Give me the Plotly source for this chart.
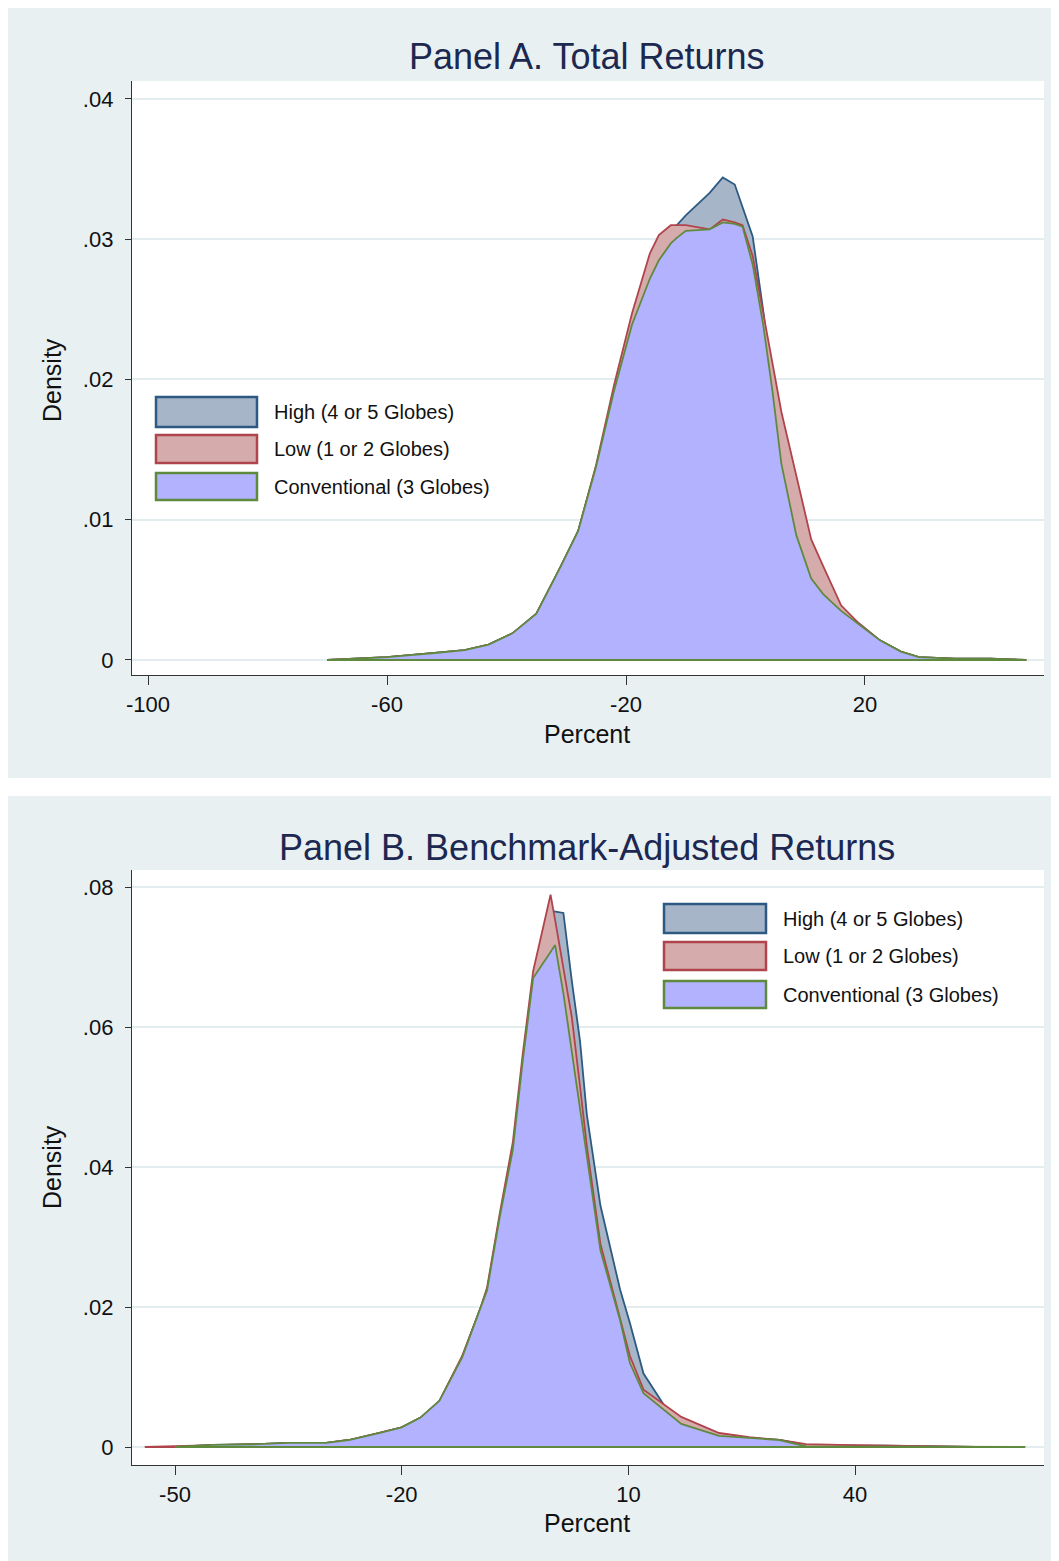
import plotly.graph_objects as go

W, H = 1059, 1561

# ---------------- Panel A data (Total Returns) ----------------
xA = [-70, -60, -52, -47, -43, -39, -35, -31, -28, -25, -22, -19, -16, -14.5, -12.5, -11.5,
      -10, -6, -3.8, -1.8, -0.5, 1.2, 3, 4.5, 6, 8.5, 11, 13, 16, 19, 22.5, 26, 29, 35, 41, 47]
convA = [0, 0.0002, 0.0005, 0.0007, 0.0011, 0.0019, 0.0033, 0.0066, 0.0092, 0.0138, 0.0192, 0.0239,
         0.0272, 0.0285, 0.0297, 0.0301, 0.0306, 0.0307, 0.0312, 0.0311, 0.0309, 0.0282, 0.0238,
         0.0192, 0.0140, 0.0089, 0.0058, 0.0047, 0.0035, 0.0025, 0.0014, 0.0006, 0.0002, 0.0001,
         0.0001, 0]
lowA = [0, 0.0002, 0.0005, 0.0007, 0.0011, 0.0019, 0.0033, 0.0066, 0.0092, 0.0139, 0.0196, 0.0247,
        0.0290, 0.0303, 0.0310, 0.0310, 0.0310, 0.0307, 0.0314, 0.0312, 0.0310, 0.0288, 0.0248,
        0.0212, 0.0177, 0.0132, 0.0086, 0.0067, 0.0039, 0.0026, 0.0014, 0.0006, 0.0002, 0.0001,
        0.0001, 0]
highA = [0, 0.0002, 0.0005, 0.0007, 0.0011, 0.0019, 0.0033, 0.0066, 0.0092, 0.0138, 0.0192, 0.0239,
         0.0275, 0.0288, 0.0302, 0.0310, 0.0317, 0.0333, 0.0344, 0.0339, 0.0323, 0.0302, 0.0248,
         0.0195, 0.0142, 0.0092, 0.0060, 0.0049, 0.0037, 0.0026, 0.0014, 0.0006, 0.0002, 0.0001,
         0.0001, 0]

# ---------------- Panel B data (Benchmark-Adjusted Returns) ----------------
xB = [-50, -45, -39, -35, -30, -27, -23, -20, -17.5, -15, -12, -9.6, -8.7, -7, -5.3, -4, -2.6,
      -0.3, 0.3, 1.4, 2.5, 3.6, 4.5, 6.3, 8.9, 10.2, 12, 15, 17, 22, 26, 30, 33.5, 38, 44, 50, 56, 62.5]
convB = [0, 0.0003, 0.0004, 0.0006, 0.0006, 0.0010, 0.0020, 0.0028, 0.0042, 0.0066, 0.0128, 0.0196,
         0.0224, 0.0330, 0.0424, 0.0550, 0.0670, 0.0707, 0.0717, 0.0648, 0.0566, 0.0477, 0.0410,
         0.0281, 0.0181, 0.0120, 0.0077, 0.0050, 0.0033, 0.0016, 0.0013, 0.0010, 0.0001, 0.0001,
         0.0001, 0.0001, 0, 0]
xB_low = [-54, -50, -45, -39, -35, -30, -27, -23, -20, -17.5, -15, -12, -9.6, -8.7, -7, -5.3, -4, -2.6,
          -0.3, 0.3, 1.4, 2.5, 3.6, 4.5, 6.3, 8.9, 10.2, 12, 15, 17, 22, 26, 30, 33.5, 38, 44, 50, 56, 62.5]
lowB = [0, 0.0001, 0.0003, 0.0004, 0.0006, 0.0006, 0.0010, 0.0020, 0.0028, 0.0042, 0.0066, 0.0130,
        0.0198, 0.0228, 0.0335, 0.0435, 0.0560, 0.0680, 0.0789, 0.0753, 0.0684, 0.0615, 0.0515,
        0.0430, 0.0290, 0.0185, 0.0130, 0.0082, 0.0058, 0.0043, 0.0020, 0.0014, 0.0010, 0.0004,
        0.0003, 0.0002, 0.0001, 0, 0]
highB = [0, 0.0003, 0.0004, 0.0006, 0.0006, 0.0010, 0.0020, 0.0028, 0.0042, 0.0066, 0.0128, 0.0196,
         0.0224, 0.0330, 0.0424, 0.0550, 0.0660, 0.0766, 0.0765, 0.0763, 0.0667, 0.0580, 0.0475,
         0.0345, 0.0225, 0.0177, 0.0105, 0.0055, 0.0035, 0.0017, 0.0013, 0.0010, 0.0003, 0.0002,
         0.0002, 0.0001, 0, 0]

series_names = ["High (4 or 5 Globes)", "Low (1 or 2 Globes)", "Conventional (3 Globes)"]
fill_colors = ["#a6b5c7", "#d6abac", "#b2b2ff"]
line_colors = ["#2c5a82", "#b0444d", "#5f8a3e"]

yticksA = [0, 0.01, 0.02, 0.03, 0.04]
yticktextA = ["0", ".01", ".02", ".03", ".04"]
xticksA = [-100, -60, -20, 20]
xticktextA = ["-100", "-60", "-20", "20"]
yticksB = [0, 0.02, 0.04, 0.06, 0.08]
yticktextB = ["0", ".02", ".04", ".06", ".08"]
xticksB = [-50, -20, 10, 40]
xticktextB = ["-50", "-20", "10", "40"]

titles = ["Panel A. Total Returns", "Panel B. Benchmark-Adjusted Returns"]

FONT = "Liberation Sans, Arial, sans-serif"
OFF = 8  # page body margin offset

fig = go.Figure()


def add_area(x, y, name, fc, lc, xa, ya):
    xs = list(x) + [x[0]]
    ys = list(y) + [0]
    fig.add_trace(go.Scatter(x=xs, y=ys, mode="lines", fill="toself", fillcolor=fc,
                             line=dict(color=lc, width=1.8), name=name, showlegend=False,
                             xaxis=xa, yaxis=ya, hoverinfo="skip"))


panelA = [(xA, highA), (xA, lowA), (xA, convA)]
panelB = [(xB, highB), (xB_low, lowB), (xB, convB)]
for i, (x, y) in enumerate(panelA):
    add_area(x, y, series_names[i], fill_colors[i], line_colors[i], "x", "y")
for i, (x, y) in enumerate(panelB):
    add_area(x, y, series_names[i], fill_colors[i], line_colors[i], "x2", "y2")


def px(v):
    return (v - OFF) / W


def py(v):
    return 1 - (v - OFF) / H


BG = "#e8f0f2"
shapes = []
# panel backgrounds
shapes.append(dict(type="rect", xref="paper", yref="paper", x0=px(8), x1=1, y0=py(778), y1=py(8),
                   fillcolor=BG, line=dict(width=0), layer="below"))
shapes.append(dict(type="rect", xref="paper", yref="paper", x0=px(8), x1=1, y0=0, y1=py(796),
                   fillcolor=BG, line=dict(width=0), layer="below"))
# white plot regions
shapes.append(dict(type="rect", xref="paper", yref="paper", x0=px(132), x1=px(1044), y0=py(675), y1=py(81),
                   fillcolor="white", line=dict(width=0), layer="below"))
shapes.append(dict(type="rect", xref="paper", yref="paper", x0=px(132), x1=px(1044), y0=py(1465), y1=py(870),
                   fillcolor="white", line=dict(width=0), layer="below"))

annotations = []
# manual legends
leg_rows = {
    "A": dict(x0=156, x1=257, ys=[(397, 427), (435, 463), (473, 500)], tx=272),
    "B": dict(x0=664, x1=766, ys=[(904, 933), (942, 970), (981, 1008)], tx=781),
}
for key, spec in leg_rows.items():
    for i, (ya, yb) in enumerate(spec["ys"]):
        shapes.append(dict(type="rect", xref="paper", yref="paper", x0=px(spec["x0"]), x1=px(spec["x1"]),
                           y0=py(yb), y1=py(ya), fillcolor=fill_colors[i],
                           line=dict(color=line_colors[i], width=2.5)))
        annotations.append(dict(text=series_names[i], xref="paper", yref="paper", x=px(spec["tx"]),
                                y=py((ya + yb) / 2), xanchor="left", yanchor="middle", showarrow=False,
                                font=dict(family=FONT, size=20, color="#111")))

# titles & axis titles
for t, yc in zip(titles, [57, 847]):
    annotations.append(dict(text=t, xref="paper", yref="paper", x=px(587), y=py(yc), xanchor="center",
                            yanchor="middle", showarrow=False, font=dict(family=FONT, size=36, color="#1c2850")))
for yc in [380, 1167]:
    annotations.append(dict(text="Density", xref="paper", yref="paper", x=px(52), y=py(yc), xanchor="center",
                            yanchor="middle", textangle=-90, showarrow=False,
                            font=dict(family=FONT, size=25, color="#111")))
for yc in [734, 1523]:
    annotations.append(dict(text="Percent", xref="paper", yref="paper", x=px(587), y=py(yc), xanchor="center",
                            yanchor="middle", showarrow=False, font=dict(family=FONT, size=25, color="#111")))

tickfont = dict(family=FONT, size=22, color="#111")
common_x = dict(showline=True, linecolor="#333", linewidth=1.3, ticks="outside", ticklen=9, tickcolor="#333",
                tickwidth=1.3, showgrid=False, zeroline=False, tickfont=tickfont, automargin=False)
common_y = dict(showline=True, linecolor="#333", linewidth=1.3, ticks="outside", ticklen=6, tickcolor="#333",
                tickwidth=1.3, showgrid=True, gridcolor="#e3edf0", gridwidth=1.5, zeroline=False,
                tickfont=tickfont, automargin=False, ticklabelstandoff=7)

fig.update_layout(
    width=W, height=H, margin=dict(l=0, r=0, t=0, b=0),
    paper_bgcolor="white", plot_bgcolor="rgba(0,0,0,0)",
    shapes=shapes, annotations=annotations,
    xaxis=dict(domain=[px(132), px(1044)], range=[-102.68, 49.96], tickvals=xticksA, ticktext=xticktextA,
               anchor="y", **common_x),
    yaxis=dict(domain=[py(675), py(81)], range=[-0.00107, 0.04128], tickvals=yticksA, ticktext=yticktextA,
               anchor="x", **common_y),
    xaxis2=dict(domain=[px(132), px(1044)], range=[-55.69, 65.0], tickvals=xticksB, ticktext=xticktextB,
                anchor="y2", **common_x),
    yaxis2=dict(domain=[py(1465), py(870)], range=[-0.00257, 0.08243], tickvals=yticksB, ticktext=yticktextB,
                anchor="x2", **common_y),
)

fig.write_html("out.html")
